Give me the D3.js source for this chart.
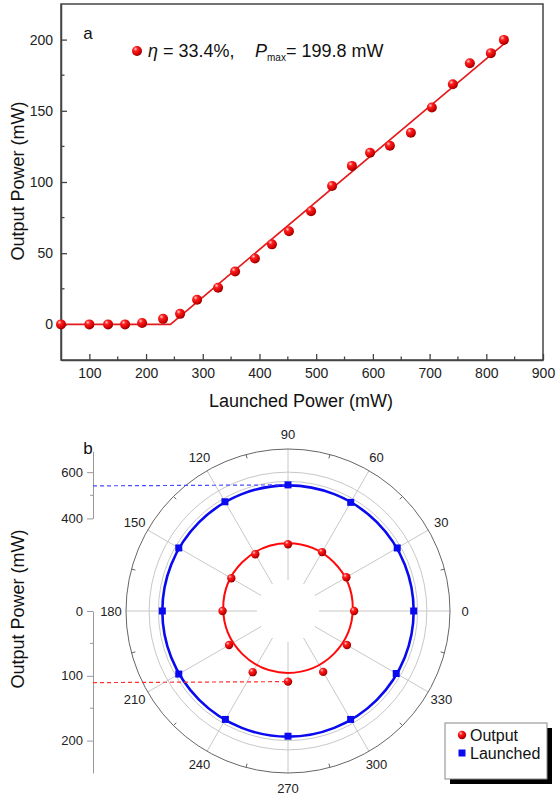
<!DOCTYPE html>
<html><head><meta charset="utf-8">
<script src="https://cdn.jsdelivr.net/npm/d3@7"></script>
<style>
html,body{margin:0;padding:0;background:#fff;}
svg{display:block;font-family:"Liberation Sans",Arial,sans-serif;}
</style></head>
<body>
<svg id="c" width="557" height="794"></svg>
<script>
// ---------- Data: panel a ----------
const launchedA = [50,100,133,163,193,230,260,290,327,357,392,422,452,491,528,563,595,630,667,704,741,771,808,831];
const outputA   = [0,0,0,0,1,3.9,7.4,17.3,25.8,37.1,46.3,56.2,65.4,79.5,97.2,111.3,120.5,125.4,134.6,152.3,168.6,183.4,190.5,199.8];
const fitX = [50,243,836];
const fitY = [0,0,198.5];
const xTicksA = [100,200,300,400,500,600,700,800,900];
const xMinorA = [150,250,350,450,550,650,750,850];
const yTicksA = [0,50,100,150,200];
const yMinorA = [25,75,125,175];

// ---------- Data: panel b ----------
const anglesB = [0,30,60,90,120,150,180,210,240,270,300,330];
const launchedB = [543,545,542,545,545,545,543,545,541,541,541,540];
const outputB   = [102,104,105,103,101,101,101,105,109,109,108.5,105];
const launchedFit = 543;
const outputFit = 100;
const outputFitShift = 4.5;
const upperTicks = [400,600];
const upperMinor = [500];
const lowerTicks = [0,100,200];
const lowerMinor = [50,150];

const svg = d3.select("#c");
const defs = svg.append("defs");
const grad = defs.append("radialGradient").attr("id","ball").attr("cx","35%").attr("cy","30%").attr("r","70%");
grad.append("stop").attr("offset","0%").attr("stop-color","#ffd0d0");
grad.append("stop").attr("offset","30%").attr("stop-color","#ff2020");
grad.append("stop").attr("offset","80%").attr("stop-color","#d00000");
grad.append("stop").attr("offset","100%").attr("stop-color","#900000");

const RED = "#e41a1c", BLUE = "#0a0af0";

// ================= Panel a =================
const x = d3.scaleLinear().domain([50,900]).range([61,543]);
const y = d3.scaleLinear().domain([-25,225]).range([360,4]);
const gA = svg.append("g");

gA.append("rect").attr("x",x(50)).attr("y",y(225)).attr("width",x(900)-x(50)).attr("height",y(-25)-y(225))
  .attr("fill","none").attr("stroke","#444").attr("stroke-width",1.5);

const xAx = gA.append("g").attr("transform",`translate(0,${y(-25)})`)
  .call(d3.axisBottom(x).tickValues(xTicksA).tickSizeInner(-6).tickSizeOuter(0).tickPadding(8));
xAx.selectAll("text").attr("font-size",14).attr("fill","#222");
xAx.select(".domain").attr("stroke","#444").attr("stroke-width",1.5);
xAx.selectAll(".tick line").attr("stroke","#444").attr("stroke-width",1.3);
gA.append("g").selectAll("line").data(xMinorA).join("line")
  .attr("x1",d=>x(d)).attr("x2",d=>x(d)).attr("y1",y(-25)).attr("y2",y(-25)-3.5)
  .attr("stroke","#444").attr("stroke-width",1.3);

const yAx = gA.append("g").attr("transform",`translate(${x(50)},0)`)
  .call(d3.axisLeft(y).tickValues(yTicksA).tickSizeInner(-6).tickSizeOuter(0).tickPadding(8));
yAx.selectAll("text").attr("font-size",14).attr("fill","#222");
yAx.select(".domain").attr("stroke","#444").attr("stroke-width",1.5);
yAx.selectAll(".tick line").attr("stroke","#444").attr("stroke-width",1.3);
gA.append("g").selectAll("line").data(yMinorA).join("line")
  .attr("x1",x(50)).attr("x2",x(50)+3.5).attr("y1",d=>y(d)).attr("y2",d=>y(d))
  .attr("stroke","#444").attr("stroke-width",1.3);

// fit line
gA.append("path").datum(fitX.map((v,i)=>[v,fitY[i]]))
  .attr("d",d3.line().x(d=>x(d[0])).y(d=>y(d[1])))
  .attr("fill","none").attr("stroke",RED).attr("stroke-width",1.6);

// points
gA.append("g").selectAll("circle").data(launchedA.map((v,i)=>[v,outputA[i]])).join("circle")
  .attr("cx",d=>x(d[0])).attr("cy",d=>y(d[1])).attr("r",5).attr("fill","url(#ball)");

// labels
gA.append("text").attr("x",88).attr("y",39).attr("font-size",17).attr("text-anchor","middle").attr("fill","#111").text("a");
gA.append("circle").attr("cx",137).attr("cy",51).attr("r",5).attr("fill","url(#ball)");
const leg = gA.append("text").attr("x",148).attr("y",57).attr("font-size",18).attr("fill","#111");
leg.append("tspan").attr("font-style","italic").text("η");
leg.append("tspan").text(" = 33.4%,");
leg.append("tspan").attr("x",255).attr("font-style","italic").text("P");
leg.append("tspan").attr("font-size",10).attr("dy",4).text("max");
leg.append("tspan").attr("dy",-4).text("= 199.8 mW");

gA.append("text").attr("transform","translate(24,181) rotate(-90)").attr("text-anchor","middle")
  .attr("font-size",18).attr("fill","#111").text("Output Power (mW)");
gA.append("text").attr("x",301).attr("y",407).attr("text-anchor","middle")
  .attr("font-size",18).attr("fill","#111").text("Launched Power (mW)");

// ================= Panel b =================
const cx = 288, cy = 611, R = 162;
const rBlue = d3.scaleLinear().domain([0,700]).range([0,R]);
const rRed = d3.scaleLinear().domain([0,250]).range([0,R]);
const ang = d3.scaleLinear().domain([0,360]).range([0,2*Math.PI]);
const px = (a,r)=>cx + r*Math.cos(ang(a));
const py = (a,r)=>cy - r*Math.sin(ang(a));
const gB = svg.append("g");

// grid circles
[rBlue(600), rRed(200)].forEach(r=>{
  gB.append("circle").attr("cx",cx).attr("cy",cy).attr("r",r).attr("fill","none").attr("stroke","#c8c8c8").attr("stroke-width",1);
});
// spokes
gB.append("g").selectAll("line").data(anglesB).join("line")
  .attr("x1",a=>px(a,31)).attr("y1",a=>py(a,31)).attr("x2",a=>px(a,R)).attr("y2",a=>py(a,R))
  .attr("stroke","#c8c8c8").attr("stroke-width",1);
// outer circle
gB.append("circle").attr("cx",cx).attr("cy",cy).attr("r",R).attr("fill","none").attr("stroke","#666").attr("stroke-width",1);
gB.append("g").selectAll("line").data(anglesB.map(a=>a+15)).join("line")
  .attr("x1",a=>px(a,R)).attr("y1",a=>py(a,R)).attr("x2",a=>px(a,R-4)).attr("y2",a=>py(a,R-4))
  .attr("stroke","#666").attr("stroke-width",1);
// angle labels
gB.append("g").selectAll("text").data(anglesB).join("text")
  .attr("x",a=>px(a,177)).attr("y",a=>py(a,177)).attr("text-anchor","middle").attr("dominant-baseline","central")
  .attr("font-size",13).attr("fill","#222").text(a=>a);

// fit circles
gB.append("circle").attr("cx",cx).attr("cy",cy).attr("r",rBlue(launchedFit)).attr("fill","none").attr("stroke",BLUE).attr("stroke-width",2.6);
gB.append("circle").attr("cx",cx).attr("cy",cy - rRed(outputFitShift)).attr("r",rRed(outputFit)).attr("fill","none").attr("stroke","#ff0a0a").attr("stroke-width",2);

// left axes
const axX = 93;
const upScale = d3.scaleLinear().domain([400,690]).range([cy - rBlue(400), cy - rBlue(690)]);
const upAx = gB.append("g").attr("transform",`translate(${axX},0)`)
  .call(d3.axisLeft(upScale).tickValues(upperTicks).tickSizeInner(6).tickSizeOuter(0).tickPadding(4));
const loScale = d3.scaleLinear().domain([0,250]).range([cy, cy + rRed(250)]);
const loAx = gB.append("g").attr("transform",`translate(${axX},0)`)
  .call(d3.axisLeft(loScale).tickValues(lowerTicks).tickSizeInner(6).tickSizeOuter(0).tickPadding(4));
[upAx, loAx].forEach(a=>{
  a.select(".domain").attr("stroke","#999");
  a.selectAll(".tick line").attr("stroke","#999");
  a.selectAll("text").attr("font-size",13).attr("fill","#222");
});
gB.append("g").selectAll("line").data(upperMinor).join("line")
  .attr("x1",axX).attr("x2",axX-3).attr("y1",d=>upScale(d)).attr("y2",d=>upScale(d)).attr("stroke","#999");
gB.append("g").selectAll("line").data(lowerMinor).join("line")
  .attr("x1",axX).attr("x2",axX-3).attr("y1",d=>loScale(d)).attr("y2",d=>loScale(d)).attr("stroke","#999");

// dashed guide lines
gB.append("line").attr("x1",axX).attr("y1",py(90,rBlue(launchedB[3]))+1).attr("x2",px(90,rBlue(launchedB[3]))).attr("y2",py(90,rBlue(launchedB[3])))
  .attr("stroke","#4b4bff").attr("stroke-width",1.2).attr("stroke-dasharray","4,3");
gB.append("line").attr("x1",axX).attr("y1",py(270,rRed(outputB[9]))+1).attr("x2",px(270,rRed(outputB[9]))).attr("y2",py(270,rRed(outputB[9])))
  .attr("stroke","#ff3030").attr("stroke-width",1.2).attr("stroke-dasharray","4,3");

// markers
gB.append("g").selectAll("rect").data(anglesB.map((a,i)=>[a,launchedB[i]])).join("rect")
  .attr("x",d=>px(d[0],rBlue(d[1]))-3.5).attr("y",d=>py(d[0],rBlue(d[1]))-3.5).attr("width",7).attr("height",7).attr("fill",BLUE);
gB.append("g").selectAll("circle").data(anglesB.map((a,i)=>[a,outputB[i]])).join("circle")
  .attr("cx",d=>px(d[0],rRed(d[1]))).attr("cy",d=>py(d[0],rRed(d[1]))).attr("r",4.2).attr("fill","url(#ball)");

// labels
gB.append("text").attr("x",88).attr("y",454).attr("font-size",17).attr("text-anchor","middle").attr("fill","#111").text("b");
gB.append("text").attr("transform","translate(24,609) rotate(-90)").attr("text-anchor","middle")
  .attr("font-size",18).attr("fill","#111").text("Output Power (mW)");

// legend
const lg = gB.append("g");
lg.append("rect").attr("x",450).attr("y",728).attr("width",102).attr("height",56).attr("fill","#000");
lg.append("rect").attr("x",445).attr("y",723).attr("width",102).attr("height",56).attr("fill","#fff").attr("stroke","#888").attr("stroke-width",1);
lg.append("circle").attr("cx",462).attr("cy",735).attr("r",4.2).attr("fill","url(#ball)");
lg.append("rect").attr("x",458.5).attr("y",749.5).attr("width",7).attr("height",7).attr("fill",BLUE);
lg.append("text").attr("x",470).attr("y",735).attr("dominant-baseline","central").attr("font-size",16).attr("fill","#111").text("Output");
lg.append("text").attr("x",470).attr("y",753).attr("dominant-baseline","central").attr("font-size",16).attr("fill","#111").text("Launched");
</script>
</body></html>
